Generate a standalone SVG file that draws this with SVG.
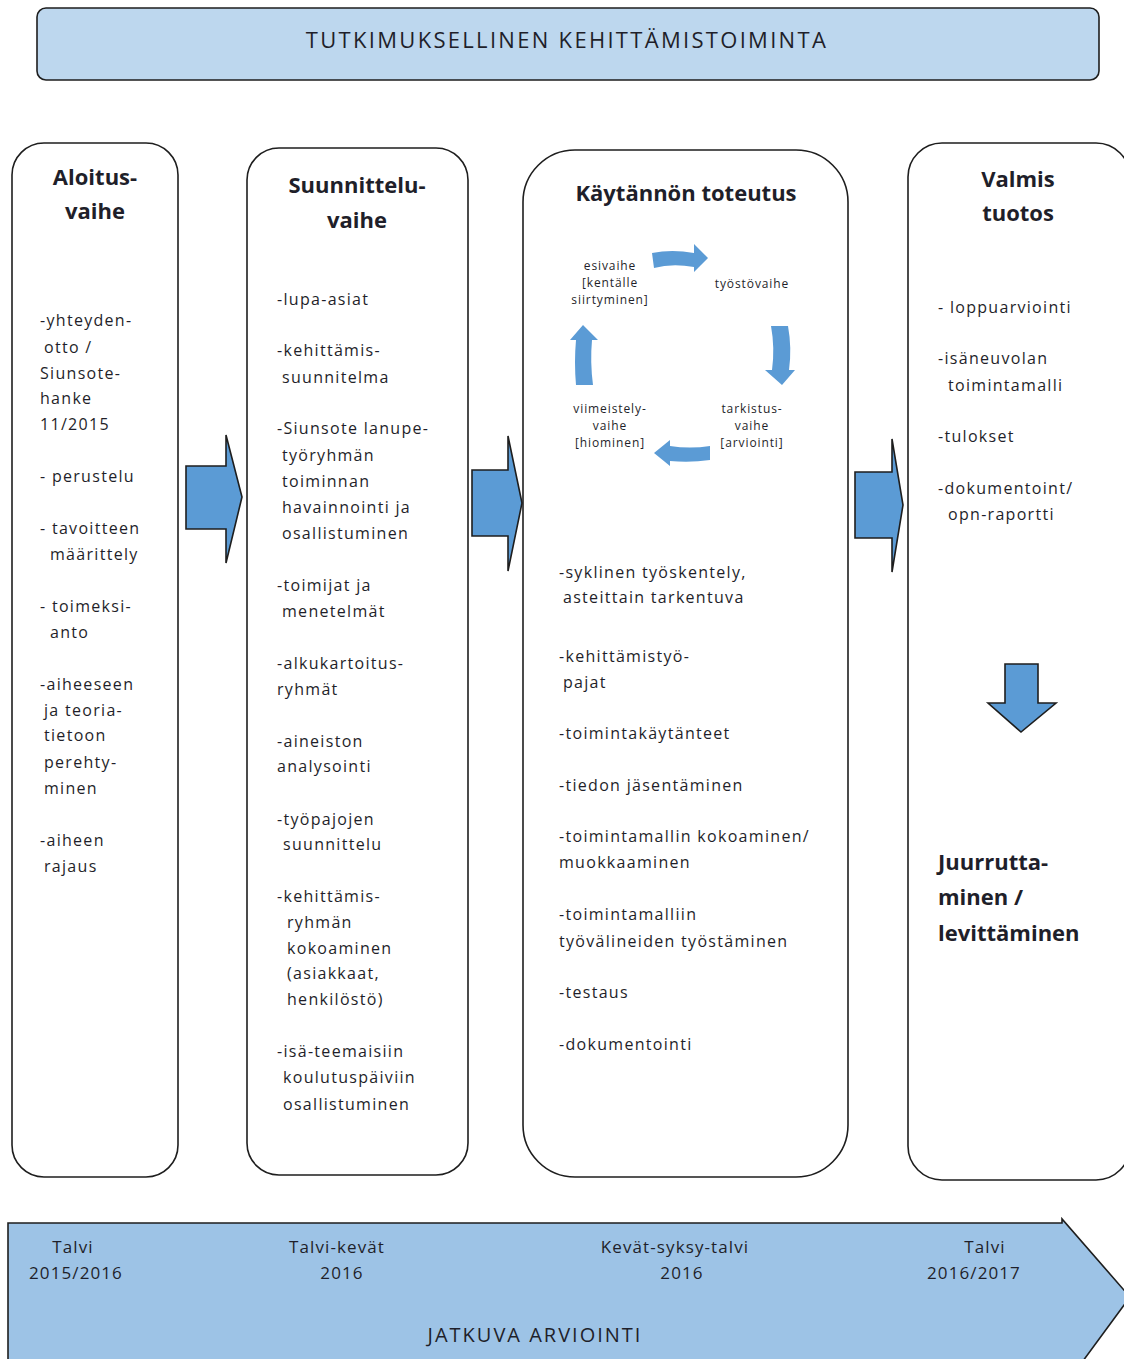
<svg xmlns="http://www.w3.org/2000/svg" width="1124" height="1359" viewBox="0 0 1124 1359">
  <style>
    .col { fill: #ffffff; stroke: #1e1e1e; stroke-width: 1.6; }
    .blk { fill: #5b9bd5; stroke: #1e1e1e; stroke-width: 1.6; stroke-linejoin: miter; }
    .cyc { fill: #5b9bd5; stroke: none; }
    .t { font-family: "Open Sans", "Liberation Sans", sans-serif; fill: #1f1f2a; }
    .body { font-size: 16px; letter-spacing: 1.3px; }
    .head { font-size: 22px; font-weight: bold; text-anchor: middle; }
    .sm { font-size: 12px; letter-spacing: 0.9px; text-anchor: middle; }
    .band { font-size: 17px; letter-spacing: 1.1px; text-anchor: middle; }
  </style>

  <!-- title banner -->
  <g id="banner">
    <rect x="37" y="8" width="1062" height="72" rx="9" fill="#bdd7ee" stroke="#1e1e1e" stroke-width="1.6"/>
    <text class="t" x="567" y="48" font-size="22" letter-spacing="2.3" text-anchor="middle">TUTKIMUKSELLINEN KEHITTÄMISTOIMINTA</text>
  </g>

  <!-- phase 1 -->
  <g id="aloitus">
    <rect class="col" x="12" y="143" width="166" height="1034" rx="32"/>
    <text class="t head" x="95" y="185">Aloitus-</text>
    <text class="t head" x="95" y="219">vaihe</text>
    <text class="t body">
      <tspan x="40" y="326">-yhteyden-</tspan>
      <tspan x="44" y="353">otto  /</tspan>
      <tspan x="40" y="379">Siunsote-</tspan>
      <tspan x="40" y="404">hanke</tspan>
      <tspan x="40" y="430">11/2015</tspan>
      <tspan x="40" y="482">- perustelu</tspan>
      <tspan x="40" y="534">- tavoitteen</tspan>
      <tspan x="50" y="560">määrittely</tspan>
      <tspan x="40" y="612">- toimeksi-</tspan>
      <tspan x="50" y="638">anto</tspan>
      <tspan x="40" y="690">-aiheeseen</tspan>
      <tspan x="44" y="716">ja teoria-</tspan>
      <tspan x="44" y="741">tietoon</tspan>
      <tspan x="44" y="768">perehty-</tspan>
      <tspan x="44" y="794">minen</tspan>
      <tspan x="40" y="846">-aiheen</tspan>
      <tspan x="44" y="872">rajaus</tspan>
    </text>
  </g>

  <!-- phase 2 -->
  <g id="suunnittelu">
    <rect class="col" x="247" y="148" width="221" height="1027" rx="32"/>
    <text class="t head" x="357" y="193">Suunnittelu-</text>
    <text class="t head" x="357" y="228">vaihe</text>
    <text class="t body">
      <tspan x="277" y="305">-lupa-asiat</tspan>
      <tspan x="277" y="356">-kehittämis-</tspan>
      <tspan x="282" y="383">suunnitelma</tspan>
      <tspan x="277" y="434">-Siunsote lanupe-</tspan>
      <tspan x="282" y="461">työryhmän</tspan>
      <tspan x="282" y="487">toiminnan</tspan>
      <tspan x="282" y="513">havainnointi ja</tspan>
      <tspan x="282" y="539">osallistuminen</tspan>
      <tspan x="277" y="591">-toimijat ja</tspan>
      <tspan x="282" y="617">menetelmät</tspan>
      <tspan x="277" y="669">-alkukartoitus-</tspan>
      <tspan x="277" y="695">ryhmät</tspan>
      <tspan x="277" y="747">-aineiston</tspan>
      <tspan x="277" y="772">analysointi</tspan>
      <tspan x="277" y="825">-työpajojen</tspan>
      <tspan x="283" y="850">suunnittelu</tspan>
      <tspan x="277" y="902">-kehittämis-</tspan>
      <tspan x="287" y="928">ryhmän</tspan>
      <tspan x="287" y="954">kokoaminen</tspan>
      <tspan x="287" y="979">(asiakkaat,</tspan>
      <tspan x="287" y="1005">henkilöstö)</tspan>
      <tspan x="277" y="1057">-isä-teemaisiin</tspan>
      <tspan x="283" y="1083">koulutuspäiviin</tspan>
      <tspan x="283" y="1110">osallistuminen</tspan>
    </text>
  </g>

  <!-- phase 3 -->
  <g id="toteutus">
    <rect class="col" x="523" y="150" width="325" height="1027" rx="52"/>
    <text class="t head" x="686" y="201">Käytännön toteutus</text>
    <!-- work cycle -->
    <g id="sykli">
      <path class="cyc" d="M652,253 Q672,249 694,253 L694,244 L708,258 L694,272 L694,267 Q672,263 654,268 Z"/>
      <path class="cyc" d="M771,326 Q775,348 772,370 L765,370 L782,385 L795,370 L789,370 Q792,348 788,326 Z"/>
      <path class="cyc" d="M710,446 Q690,449 670,446 L670,440 L654,453 L670,466 L670,461 Q690,463 710,460 Z"/>
      <path class="cyc" d="M593,385 Q590,362 592,340 L598,340 L583,325 L570,340 L576,340 Q574,362 576,385 Z"/>
      <text class="t sm"><tspan x="610" y="270">esivaihe</tspan><tspan x="610" y="287">[kentälle</tspan><tspan x="610" y="304">siirtyminen]</tspan></text>
      <text class="t sm" x="752" y="288">työstövaihe</text>
      <text class="t sm"><tspan x="610" y="413">viimeistely-</tspan><tspan x="610" y="430">vaihe</tspan><tspan x="610" y="447">[hiominen]</tspan></text>
      <text class="t sm"><tspan x="752" y="413">tarkistus-</tspan><tspan x="752" y="430">vaihe</tspan><tspan x="752" y="447">[arviointi]</tspan></text>
    </g>
    <text class="t body">
      <tspan x="559" y="578">-syklinen työskentely,</tspan>
      <tspan x="563" y="603">asteittain tarkentuva</tspan>
      <tspan x="559" y="662">-kehittämistyö-</tspan>
      <tspan x="563" y="688">pajat</tspan>
      <tspan x="559" y="739">-toimintakäytänteet</tspan>
      <tspan x="559" y="791">-tiedon jäsentäminen</tspan>
      <tspan x="559" y="842">-toimintamallin kokoaminen/</tspan>
      <tspan x="559" y="868">muokkaaminen</tspan>
      <tspan x="559" y="920">-toimintamalliin</tspan>
      <tspan x="559" y="947">työvälineiden työstäminen</tspan>
      <tspan x="559" y="998">-testaus</tspan>
      <tspan x="559" y="1050">-dokumentointi</tspan>
    </text>
  </g>

  <!-- phase 4 -->
  <g id="valmis">
    <rect class="col" x="908" y="143" width="222" height="1037" rx="34"/>
    <text class="t head" x="1018" y="187">Valmis</text>
    <text class="t head" x="1018" y="221">tuotos</text>
    <text class="t body">
      <tspan x="938" y="313">- loppuarviointi</tspan>
      <tspan x="938" y="364">-isäneuvolan</tspan>
      <tspan x="948" y="391">toimintamalli</tspan>
      <tspan x="938" y="442">-tulokset</tspan>
      <tspan x="938" y="494">-dokumentoint/</tspan>
      <tspan x="948" y="520">opn-raportti</tspan>
    </text>
    <text class="t" font-size="22" font-weight="bold">
      <tspan x="938" y="870">Juurrutta-</tspan>
      <tspan x="938" y="905">minen /</tspan>
      <tspan x="938" y="941">levittäminen</tspan>
    </text>
  </g>

  <!-- connectors between phases -->
  <g id="connectors">
    <path class="blk" d="M186,466 L226,466 L226,435 L242,497 L226,563 L226,529 L186,529 Z"/>
    <path class="blk" d="M472,470 L508,470 L508,436 L522,503 L508,571 L508,536 L472,536 Z"/>
    <path class="blk" d="M855,472 L892,472 L892,439 L903,505 L892,572 L892,538 L855,538 Z"/>
    <path class="blk" d="M1005,664 L1038,664 L1038,703 L1056,703 L1021,732 L988,703 L1005,703 Z"/>
  </g>

  <!-- timeline band -->
  <g id="aikajana">
    <path d="M8,1359 L8,1223 L1062,1223 L1062,1219 L1130,1297 L1080,1365 L1080,1359 Z" fill="#9dc3e6"/>
    <path d="M8,1359 L8,1223 L1062,1223 L1062,1219 L1130,1297 L1080,1365" fill="none" stroke="#1e1e1e" stroke-width="1.6"/>
    <text class="t band"><tspan x="73" y="1253">Talvi</tspan><tspan x="76" y="1279">2015/2016</tspan></text>
    <text class="t band"><tspan x="337" y="1253">Talvi-kevät</tspan><tspan x="342" y="1279">2016</tspan></text>
    <text class="t band"><tspan x="675" y="1253">Kevät-syksy-talvi</tspan><tspan x="682" y="1279">2016</tspan></text>
    <text class="t band"><tspan x="985" y="1253">Talvi</tspan><tspan x="974" y="1279">2016/2017</tspan></text>
    <text class="t" x="535" y="1342" font-size="20" letter-spacing="2" text-anchor="middle">JATKUVA ARVIOINTI</text>
  </g>
</svg>
